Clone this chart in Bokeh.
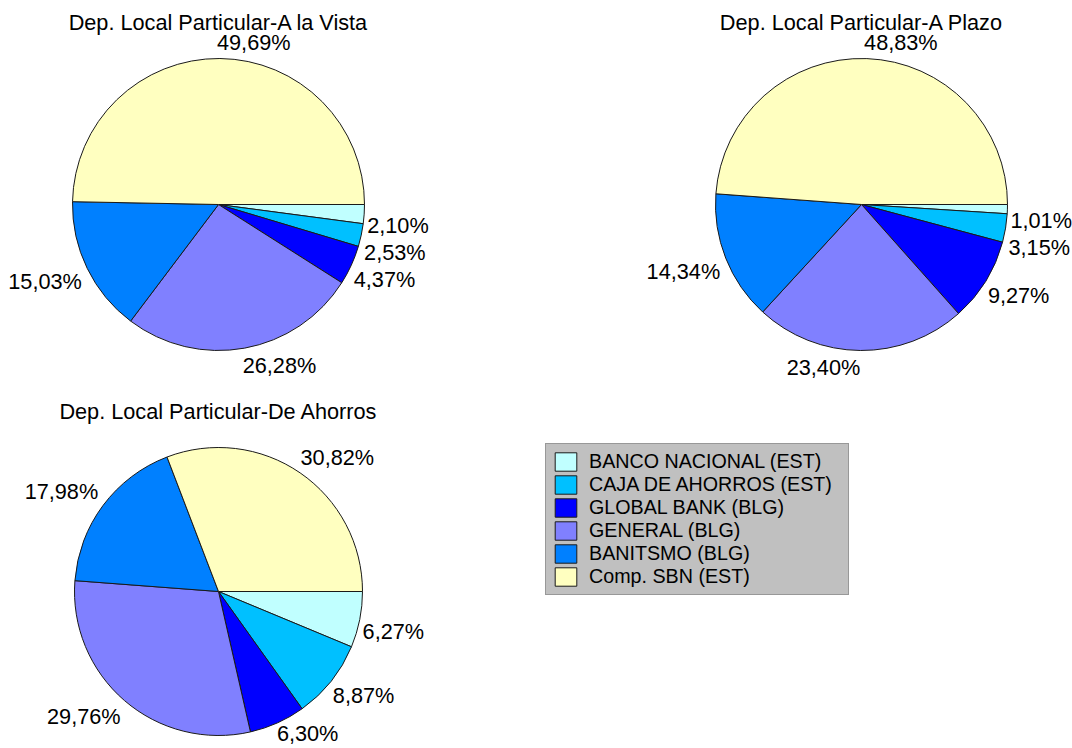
import math
from bokeh.plotting import figure
from bokeh.models import Range1d, ColumnDataSource, Legend, LegendItem
from bokeh.core.properties import value, field
from bokeh.embed import file_html
from bokeh.resources import INLINE

# ---------------- data ----------------
categories = ["BANCO NACIONAL (EST)", "CAJA DE AHORROS (EST)", "GLOBAL BANK (BLG)",
              "GENERAL (BLG)", "BANITSMO (BLG)", "Comp. SBN (EST)"]
colors = ["#C0FFFF", "#00C0FF", "#0000FF", "#8080FF", "#0080FF", "#FFFFC0"]

titles = ["Dep. Local Particular-A la Vista",
          "Dep. Local Particular-A Plazo",
          "Dep. Local Particular-De Ahorros"]
vista = [2.10, 2.53, 4.37, 26.28, 15.03, 49.69]
plazo = [1.01, 3.15, 9.27, 23.40, 14.34, 48.83]
ahorros = [6.27, 8.87, 6.30, 29.76, 17.98, 30.82]

# ---------------- layout (picture pixel coordinates) ----------------
W, H = 1072, 748
FONT = "Liberation Sans"
TEXT_SHIFT = 8  # rendered glyph bottom sits this far below the requested baseline
pies = [  # (values, title, cx, cy, r)
    (vista, titles[0], 218, 204, 146),
    (plazo, titles[1], 861, 204, 146),
    (ahorros, titles[2], 218, 591, 144),
]


def dy(Y):
    return H - Y


def ty(Y):
    # position of a text whose digits' bottom should sit at picture row Y
    return H - (Y - TEXT_SHIFT)


p = figure(width=W, height=H, output_backend="svg", toolbar_location=None,
           x_range=Range1d(0, W), y_range=Range1d(0, H),
           x_axis_location=None, y_axis_location=None, min_border=0,
           outline_line_color=None, background_fill_color="white")
p.grid.visible = False

renderers = []
for vals, title, cx, cy, r in pies:
    total = sum(vals)
    starts, ends = [], []
    cum = 0.0
    labels = []
    for v in vals:
        a0 = cum / total * 2 * math.pi
        a1 = (cum + v) / total * 2 * math.pi
        mid = (a0 + a1) / 2
        cum += v
        starts.append(-a0)
        ends.append(-a1)
        ax = cx + (r + 6) * math.cos(mid)
        ay = cy + (r + 6) * math.sin(mid)  # screen y (down)
        right = math.cos(mid) >= 0
        lower = math.sin(mid) > 0
        lx = ax - 3 if right else ax
        base = ay + 19 if lower else ay - 2
        txt = ("%.2f" % v).replace(".", ",") + "%"
        labels.append({"x": lx, "base": base, "text": txt,
                       "align": "left" if right else "right", "right": right})
    # resolve overlaps on each side (push down), keep inside the picture
    for side in (True, False):
        grp = sorted([l for l in labels if l["right"] == side], key=lambda l: l["base"])
        prev = None
        for l in grp:
            if prev is not None and l["base"] < prev + 27:
                l["base"] = prev + 27
            l["base"] = min(l["base"], H - 7)
            prev = l["base"]

    src = ColumnDataSource(dict(
        x=[cx] * len(vals), y=[dy(cy)] * len(vals), r=[r] * len(vals),
        start=starts, end=ends, color=colors, name=categories))
    wr = p.wedge(x="x", y="y", radius="r", start_angle="start", end_angle="end",
                 direction="clock", fill_color="color", line_color="#1a1a1a",
                 line_width=1, source=src)
    renderers.append(wr)

    lsrc = ColumnDataSource(dict(
        x=[l["x"] for l in labels], y=[ty(l["base"]) for l in labels],
        text=[l["text"] for l in labels], align=[l["align"] for l in labels]))
    p.text(x="x", y="y", text="text", text_align=field("align"),
           text_baseline="alphabetic", text_font=value(FONT),
           text_font_size="21.7px", text_color="#000000", source=lsrc)

    tsrc = ColumnDataSource(dict(x=[cx], y=[ty(cy - r - 28)], text=[title]))
    p.text(x="x", y="y", text="text", text_align="center",
           text_baseline="alphabetic", text_font=value(FONT),
           text_font_size="21.7px", text_color="#000000", source=tsrc)

items = [LegendItem(label=c, renderers=[renderers[0]], index=i)
         for i, c in enumerate(categories)]
legend = Legend(items=items, location=(545, H - 595), orientation="vertical",
                background_fill_color="#C0C0C0", background_fill_alpha=1.0,
                border_line_color="#707070", border_line_width=1.5,
                padding=6, spacing=0, margin=0,
                glyph_width=27, glyph_height=23, label_height=23,
                label_standoff=10, label_width=253,
                label_text_font=FONT, label_text_font_size="19.7px",
                label_text_color="#000000")
p.add_layout(legend, "center")

open("out.html", "w").write(file_html(p, INLINE))
